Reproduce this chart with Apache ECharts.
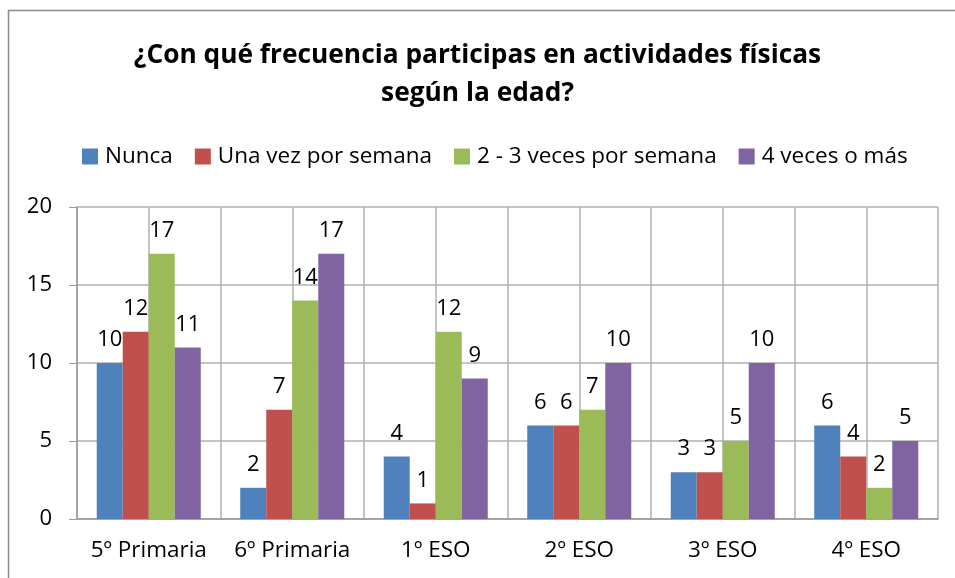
<!DOCTYPE html>
<html><head><meta charset="utf-8">
<script src="https://cdn.jsdelivr.net/npm/echarts@6/dist/echarts.min.js"></script>
<style>html,body{margin:0;padding:0;background:#fff}#c{width:955px;height:578px}</style>
</head><body><div id="c"></div>
<script>
const categories = ['5º Primaria','6º Primaria','1º ESO','2º ESO','3º ESO','4º ESO'];
const seriesNames = ['Nunca','Una vez por semana','2 - 3 veces por semana','4 veces o más'];
const nunca = [10,2,4,6,3,6];
const unaVez = [12,7,1,6,3,4];
const dosTres = [17,14,12,7,5,2];
const cuatro = [11,17,9,10,10,5];
const yTicks = [0,5,10,15,20];
const colors = ['#4F81BD','#C0504D','#9BBB59','#8064A2'];
const FONT = 'Open Sans';
const values = [nunca, unaVez, dosTres, cuatro];
const chart = echarts.init(document.getElementById('c'));
chart.setOption({
  animation:false,
  textStyle:{fontFamily:FONT},
  graphic:[{type:'rect',shape:{x:8.5,y:10.5,width:960,height:600},style:{fill:'none',stroke:'#8a8a8a',lineWidth:1.5},z:-1}],
  title:{text:'¿Con qué frecuencia participas en actividades físicas\nsegún la edad?',left:'center',top:32,
    textStyle:{fontFamily:FONT,fontWeight:'bold',fontSize:26.3,lineHeight:38,color:'#000'}},
  legend:{top:140,left:77,itemWidth:16,itemHeight:16,itemGap:22,icon:'rect',
    textStyle:{fontFamily:FONT,fontSize:22.5,color:'#000',padding:[0,0,0,2]},data:seriesNames},
  grid:{left:77,right:17,top:207,bottom:59},
  xAxis:[{type:'category',data:categories,axisTick:{show:false},
     axisLine:{lineStyle:{color:'#9a9a9a',width:1.5}},
     axisLabel:{fontFamily:FONT,fontSize:22.5,color:'#000',margin:20,interval:0}},
    {type:'value',min:0,max:12,interval:1,show:true,position:'bottom',axisLabel:{show:false},axisLine:{show:false},axisTick:{show:false},
     splitLine:{show:true,lineStyle:{color:'#b0b0b0',width:1.5}}}],
  yAxis:{type:'value',min:yTicks[0],max:yTicks[yTicks.length-1],interval:5,
    axisLine:{show:true,lineStyle:{color:'#9a9a9a',width:1.5}},
    axisTick:{show:true,length:8,lineStyle:{color:'#9a9a9a'}},
    splitLine:{lineStyle:{color:'#b0b0b0',width:1.5}},
    axisLabel:{fontFamily:FONT,fontSize:22,color:'#000',margin:25}},
  series: seriesNames.map((n,i)=>({name:n,type:'bar',data:values[i],xAxisIndex:0,
    itemStyle:{color:colors[i]},barGap:'0%',barCategoryGap:'27.5%',
    label:{show:true,position:'top',distance:12,fontFamily:FONT,fontSize:22,color:'#000'}}))
});
</script></body></html>
